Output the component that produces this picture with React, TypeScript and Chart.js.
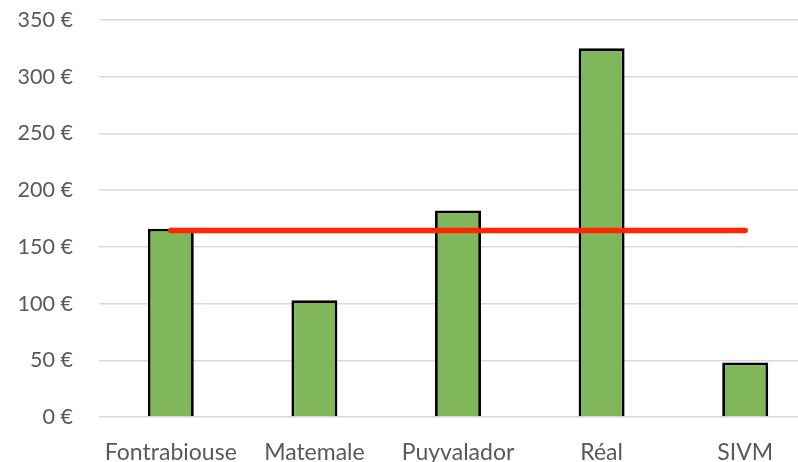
import React, { useEffect, useRef } from "react";
import { Chart, registerables } from "chart.js";

Chart.register(...registerables);

const categories = ["Fontrabiouse", "Matemale", "Puyvalador", "Réal", "SIVM"];
const costs = [166, 103, 182, 325, 48];
const average = [164.5, 164.5, 164.5, 164.5, 164.5];
const yTicks = [0, 50, 100, 150, 200, 250, 300, 350];

export default function App() {
  const ref = useRef<HTMLCanvasElement | null>(null);
  useEffect(() => {
    if (!ref.current) return;
    const chart = new Chart(ref.current, {
      type: "bar",
      data: {
        labels: categories,
        datasets: [
          {
            type: "line",
            data: average,
            borderColor: "#FF2600",
            backgroundColor: "#FF2600",
            borderWidth: 5.5,
            borderCapStyle: "round",
            pointRadius: 0,
            order: 0,
          } as any,
          {
            type: "bar",
            data: costs,
            backgroundColor: "#80B75A",
            borderColor: "#000000",
            borderWidth: 2.8,
            barPercentage: 0.32,
            categoryPercentage: 1,
            order: 1,
          },
        ],
      },
      options: {
        animation: false,
        responsive: false,
        maintainAspectRatio: false,
        layout: { padding: { top: 20, left: 0, right: 0, bottom: 0 } },
        plugins: { legend: { display: false }, tooltip: { enabled: false } },
        scales: {
          x: {
            grid: { display: false },
            border: { display: false },
            ticks: {
              color: "#595959",
              font: { family: "Lato", size: 23 },
              padding: 14,
              maxRotation: 0,
            },
            afterFit: (s: any) => {
              s.height = 45;
              s.paddingLeft = 0;
              s.paddingRight = 0;
            },
          },
          y: {
            min: 0,
            max: 350,
            afterBuildTicks: (s: any) => {
              s.ticks = yTicks.map((v) => ({ value: v }));
            },
            grid: { color: "#D9D9D9", lineWidth: 1.5, drawTicks: false },
            border: { display: false },
            ticks: {
              color: "#595959",
              font: { family: "Lato", size: 21.5 },
              padding: 26,
              callback: (v: any) => `${v} €`,
            },
            afterFit: (s: any) => {
              s.width = 99;
              s.paddingTop = 0;
              s.paddingBottom = 0;
            },
          },
        },
      },
    });
    return () => chart.destroy();
  }, []);
  return (
    <div style={{ position: "fixed", left: 0, top: 0, width: 798, height: 462, overflow: "hidden", background: "#fff" }}>
      <canvas ref={ref} width={817} height={462} style={{ display: "block" }} />
    </div>
  );
}
